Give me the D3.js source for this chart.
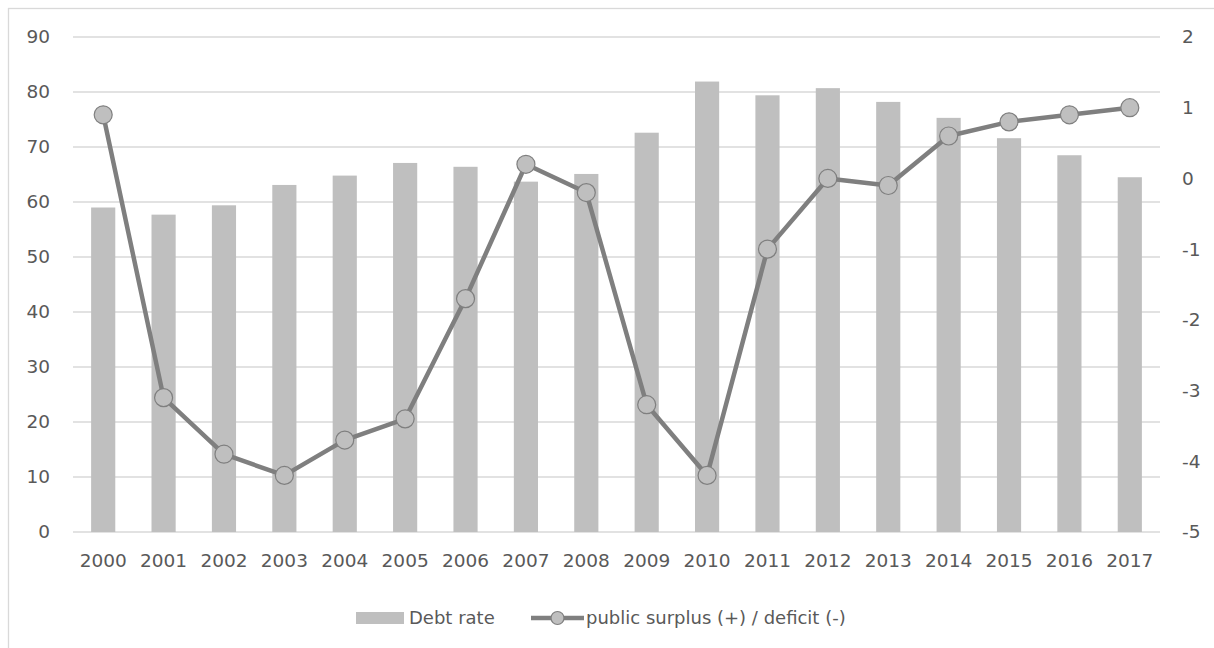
<!DOCTYPE html>
<meta charset="utf-8">
<style>
    body { margin: 0; background: #ffffff; }
    text {
        font-family: "DejaVu Sans", sans-serif;
        font-size: 18px;
        fill: #595959;
    }
    .grid line { stroke: #d9d9d9; stroke-width: 1.3px; }
</style>
<svg width="1214" height="648"></svg>
<script src="https://d3js.org/d3.v7.min.js"></script>
<script>

    var years = ["2000", "2001", "2002", "2003", "2004", "2005", "2006", "2007", "2008",
        "2009", "2010", "2011", "2012", "2013", "2014", "2015", "2016", "2017"];
    var debtRate = [59, 57.7, 59.4, 63.1, 64.8, 67.1, 66.4, 63.7, 65.1,
        72.6, 81.9, 79.4, 80.7, 78.2, 75.3, 71.6, 68.5, 64.5];
    var balance = [0.9, -3.1, -3.9, -4.2, -3.7, -3.4, -1.7, 0.2, -0.2,
        -3.2, -4.2, -1.0, 0.0, -0.1, 0.6, 0.8, 0.9, 1.0];
    var leftTicks = [0, 10, 20, 30, 40, 50, 60, 70, 80, 90];
    var rightTicks = [-5, -4, -3, -2, -1, 0, 1, 2];

    var svg = d3.select("svg");
    var plotLeft = 73, plotRight = 1160, plotTop = 37, plotBottom = 532;

    // chart frame (only top and left edges fall inside the picture)
    svg.append("rect")
        .attr("x", 8.5).attr("y", 8.5)
        .attr("width", 1300).attr("height", 700)
        .attr("fill", "none")
        .attr("stroke", "#d9d9d9")
        .attr("stroke-width", 1.3);

    var x = d3.scaleBand().domain(years).range([plotLeft, plotRight]).paddingInner(0.6).paddingOuter(0.3);
    var yL = d3.scaleLinear().domain([0, 90]).range([plotBottom, plotTop]);
    var yR = d3.scaleLinear().domain([-5, 2]).range([plotBottom, plotTop]);

    svg.append("g")
        .attr("class", "grid")
        .selectAll("line")
        .data(leftTicks)
        .enter().append("line")
        .attr("x1", plotLeft).attr("x2", plotRight)
        .attr("y1", function (d) { return yL(d); })
        .attr("y2", function (d) { return yL(d); });

    // left axis
    var axL = svg.append("g")
        .attr("transform", "translate(" + (plotLeft - 23) + ",0)")
        .call(d3.axisLeft(yL).tickValues(leftTicks).tickSize(0).tickPadding(0));
    axL.select(".domain").remove();

    // right axis (plain hyphen for negatives, like the original)
    var axR = svg.append("g")
        .attr("transform", "translate(" + (plotRight + 22) + ",0)")
        .call(d3.axisRight(yR).tickValues(rightTicks).tickSize(0).tickPadding(0)
            .tickFormat(function (d) { return String(d); }));
    axR.select(".domain").remove();

    // bottom axis
    var axB = svg.append("g")
        .attr("transform", "translate(0," + (plotBottom + 14) + ")")
        .call(d3.axisBottom(x).tickSize(0).tickPadding(8));
    axB.select(".domain").remove();

    svg.selectAll(".tick text")
        .attr("fill", "#595959")
        .style("font-family", "DejaVu Sans, sans-serif")
        .style("font-size", "18.5px");

    // bars
    svg.append("g")
        .selectAll("rect")
        .data(years)
        .enter().append("rect")
        .attr("x", function (d) { return x(d); })
        .attr("width", x.bandwidth())
        .attr("y", function (d, i) { return yL(debtRate[i]); })
        .attr("height", function (d, i) { return yL(0) - yL(debtRate[i]); })
        .attr("fill", "#bfbfbf");

    var cx = function (d, i) { return x(years[i]) + x.bandwidth() / 2; };

    svg.append("path")
        .datum(balance)
        .attr("fill", "none")
        .attr("stroke", "#7f7f7f")
        .attr("stroke-width", 4.5)
        .attr("stroke-linejoin", "round")
        .attr("d", d3.line().x(cx).y(function (d) { return yR(d); }));

    svg.append("g")
        .selectAll("circle")
        .data(balance)
        .enter().append("circle")
        .attr("cx", cx)
        .attr("cy", function (d) { return yR(d); })
        .attr("r", 9)
        .attr("fill", "#bfbfbf")
        .attr("stroke", "#7f7f7f")
        .attr("stroke-width", 1.2);

    // legend
    var legend = svg.append("g");
    legend.append("rect")
        .attr("x", 356).attr("y", 612)
        .attr("width", 48).attr("height", 12)
        .attr("fill", "#bfbfbf");
    legend.append("text")
        .attr("x", 409).attr("y", 624)
        .text("Debt rate");
    legend.append("line")
        .attr("x1", 531).attr("x2", 584)
        .attr("y1", 618).attr("y2", 618)
        .attr("stroke", "#7f7f7f")
        .attr("stroke-width", 4.5);
    legend.append("circle")
        .attr("cx", 557.5).attr("cy", 618).attr("r", 6.5)
        .attr("fill", "#bfbfbf")
        .attr("stroke", "#7f7f7f")
        .attr("stroke-width", 1.2);
    legend.append("text")
        .attr("x", 586).attr("y", 624)
        .text("public surplus (+) / deficit (-)");

</script>
